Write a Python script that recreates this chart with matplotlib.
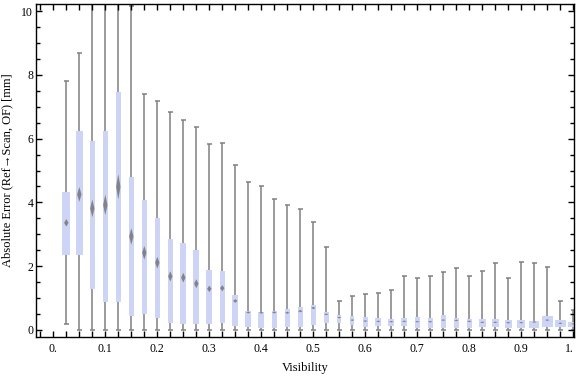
import matplotlib
matplotlib.use("Agg")
import matplotlib.pyplot as plt
from matplotlib.ticker import MultipleLocator, FixedLocator

plt.rcParams['font.family'] = ['Liberation Serif', 'DejaVu Serif']

# values
visibility = [0.025, 0.05, 0.075, 0.1, 0.125, 0.15, 0.175, 0.2, 0.225, 0.25,
              0.275, 0.3, 0.325, 0.35, 0.375, 0.4, 0.425, 0.45, 0.475, 0.5,
              0.525, 0.55, 0.575, 0.6, 0.625, 0.65, 0.675, 0.7, 0.725, 0.75,
              0.775, 0.8, 0.825, 0.85, 0.875, 0.9, 0.925, 0.95, 0.975, 1.0]
whisker_low = [0.18, 0, 0, 0, 0, 0, 0, 0, 0, 0,
               0, 0, 0, 0, 0, 0, 0, 0, 0, 0,
               0, 0, 0, 0, 0, 0, 0, 0, 0, 0,
               0, 0, 0, 0, 0, 0, 0, 0, 0, 0]
q1 = [2.36, 2.36, 1.30, 0.89, 0.88, 0.45, 0.50, 0.39, 0.23, 0.20,
      0.19, 0.19, 0.23, 0.13, 0.10, 0.07, 0.07, 0.10, 0.10, 0.17,
      0.23, 0.23, 0.17, 0.10, 0.13, 0.13, 0.13, 0.07, 0.07, 0.07,
      0.07, 0.07, 0.10, 0.10, 0.07, 0.07, 0.07, 0.10, 0.10, 0.10]
median = [3.36, 4.25, 3.81, 3.92, 4.49, 2.93, 2.42, 2.11, 1.68, 1.64,
          1.45, 1.29, 1.31, 0.91, 0.55, 0.54, 0.55, 0.54, 0.59, 0.69,
          0.49, 0.39, 0.31, 0.28, 0.27, 0.26, 0.27, 0.26, 0.26, 0.31,
          0.30, 0.27, 0.24, 0.24, 0.23, 0.23, 0.25, 0.31, 0.21, 0.19]
q3 = [4.32, 6.24, 5.92, 6.24, 7.46, 4.79, 4.08, 3.51, 2.85, 2.73,
      2.51, 1.88, 1.85, 1.10, 0.60, 0.56, 0.60, 0.66, 0.72, 0.78,
      0.56, 0.47, 0.43, 0.42, 0.39, 0.34, 0.39, 0.42, 0.39, 0.47,
      0.39, 0.36, 0.36, 0.36, 0.32, 0.32, 0.29, 0.45, 0.31, 0.26]
whisker_high = [7.80, 8.68, 12.0, 13.0, 12.5, 10.15, 7.41, 7.17, 6.84, 6.57,
                6.35, 5.82, 5.85, 5.16, 4.63, 4.50, 4.10, 3.92, 3.78, 3.40,
                2.59, 0.90, 1.06, 1.13, 1.15, 1.25, 1.68, 1.62, 1.68, 1.82,
                1.93, 1.68, 1.85, 2.10, 1.62, 2.13, 2.10, 1.97, 0.90, 0.63]
# box widths vary in the reference (in units of visibility)
box_widths = [0.016, 0.014, 0.0096, 0.0096, 0.0096, 0.0096, 0.0085, 0.0096, 0.0096, 0.011,
              0.0115, 0.0115, 0.0096, 0.0115, 0.0115, 0.0115, 0.0096, 0.0096, 0.0096, 0.0096,
              0.0096, 0.0078, 0.0078, 0.0096, 0.0115, 0.0115, 0.0115, 0.0102, 0.0102, 0.0102,
              0.0102, 0.0102, 0.0135, 0.0135, 0.014, 0.016, 0.019, 0.021, 0.0217, 0.019]

box_color = '#cdd4f5'
line_color = '#808080'
med_color = '#707070'

fig = plt.figure(figsize=(5.76, 3.77), dpi=100)
ax = fig.add_axes([36 / 576, 40 / 377, 538.3 / 576, 333 / 377])

cap = 0.0045
for x, lo, a, m, b, hi, w in zip(visibility, whisker_low, q1, median, q3,
                                 whisker_high, box_widths):
    ax.vlines(x, lo, hi, color=line_color, lw=1.1, zorder=1)
    ax.hlines([lo, hi], x - cap, x + cap, color=line_color, lw=1.1, zorder=1)
    ax.bar(x, b - a, bottom=a, width=w, color=box_color, lw=0, zorder=2)
    hh = max(0.06 * (b - a), 0.025)
    hw = 0.0042
    ax.fill([x - hw, x, x + hw, x], [m, m + hh, m, m - hh],
            color=med_color, alpha=0.8, lw=0, zorder=3)

ax.set_xlim(-0.0333, 1.002)
ax.set_ylim(-0.22, 10.22)

ax.xaxis.set_major_locator(FixedLocator([0, 0.1, 0.2, 0.3, 0.4, 0.5, 0.6, 0.7, 0.8, 0.9, 1.0]))
ax.set_xticklabels(['0.', '0.1', '0.2', '0.3', '0.4', '0.5', '0.6', '0.7', '0.8', '0.9', '1.'])
ax.xaxis.set_minor_locator(MultipleLocator(0.025))
ax.yaxis.set_major_locator(FixedLocator([0, 2, 4, 6, 8, 10]))
ax.yaxis.set_minor_locator(MultipleLocator(0.5))

ax.tick_params(which='both', direction='in', top=True, right=True,
               width=1.0, labelsize=8.5, colors='black')
ax.tick_params(axis='x', which='both', length=4, pad=4)
ax.tick_params(axis='y', which='major', length=4.5, pad=2)
ax.tick_params(axis='y', which='minor', length=3)
for s in ax.spines.values():
    s.set_linewidth(1.0)
# the last label sits at the very edge of the figure
ax.get_xticklabels()[-1].set_horizontalalignment('right')
ax.get_xticklabels()[-1].set_x(1.0)

ax.set_xlabel('Visibility', fontsize=9, labelpad=5)
ax.set_ylabel('Absolute Error (Ref\u2192Scan, OF) [mm]', fontsize=9, labelpad=6)

fig.savefig('out.png', dpi=100)
